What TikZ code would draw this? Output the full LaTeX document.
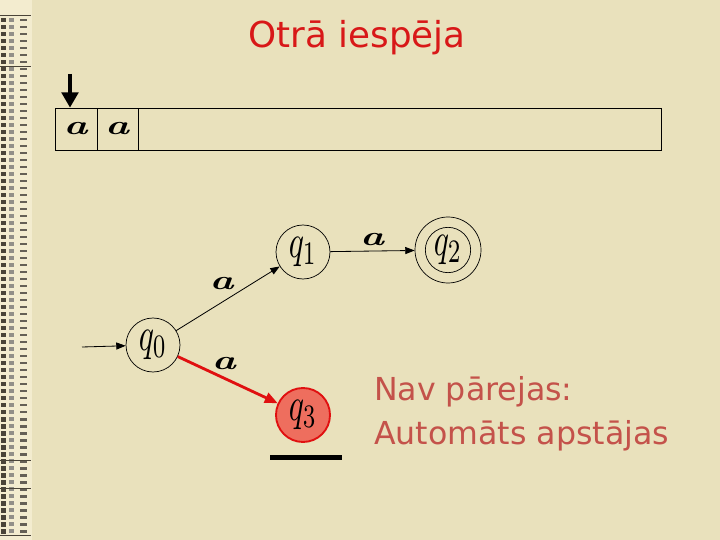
\RequirePackage{fix-cm}
\documentclass[tikz,border=0pt]{standalone}
\usepackage{fontspec}
\usepackage{amsmath}
\usepackage{tikz}
\usetikzlibrary{arrows.meta,calc}
\newfontfamily\verdanaish{DejaVu Sans}
\definecolor{fons}{HTML}{E9E1BC}
\definecolor{mala}{HTML}{F3ECCF}
\definecolor{malaTumss}{HTML}{4A4438}
\definecolor{virsraksts}{HTML}{D81818}
\definecolor{zinaSarkans}{HTML}{C4524A}
\definecolor{sarkans}{HTML}{E01010}
\definecolor{aizpilde}{HTML}{EE6E5E}
\newcommand{\burts}{\scalebox{1.5}[1]{\fontsize{23}{23}\selectfont\textbf{\textit{a}}}}
\newcommand{\stv}[1]{\scalebox{2.7}[4]{$#1$}}

\begin{document}
\begin{tikzpicture}[x=0.03cm,y=-0.03cm,
  stavoklis/.style={circle,draw,line width=0.6pt,minimum size=1.62cm,inner sep=0pt},
  parejas/.style={-{Triangle[length=8pt,width=6pt]},line width=0.7pt},
  burtinsh/.style={inner sep=1pt}]
\useasboundingbox (0,0) rectangle (720,540);
\fill[fons] (0,0) rectangle (720,540);
% kreisa mala
\fill[mala] (0,0) rectangle (32,540);
\foreach \y in {18,25,...,530} {
  \fill[malaTumss] (1,\y) rectangle (6,\y+4.5);
  \fill[malaTumss!60] (9,\y) rectangle (14,\y+4);
  \fill[malaTumss!85] (20,\y+1) rectangle (27,\y+3.5);
}
\foreach \y in {15,66,460,488,535} \draw[malaTumss,line width=0.6pt] (0,\y)--(31,\y);
% virsraksts
\node[virsraksts,font=\verdanaish\fontsize{30.5}{32}\selectfont] (nosaukums) at (357,38) {Otrā iespēja};
% lente
\draw[line width=0.6pt] (55,108) rectangle (661,150);
\node[draw,line width=0.6pt,minimum width=1.26cm,minimum height=1.26cm,inner sep=0pt] (c1) at (76,129) {\burts};
\node[draw,line width=0.6pt,minimum width=1.23cm,minimum height=1.26cm,inner sep=0pt] (c2) at (117.5,129) {\burts};
\coordinate (galva) at (70,74);
\draw[line width=3.4pt,-{Triangle[length=13pt,width=14pt]}] (galva) -- (galva |- c1.north);
% automats
\node[stavoklis] (q0) at (153,345) {\stv{q_0}};
\node[stavoklis] (q1) at (303,252) {\stv{q_1}};
\node[stavoklis,minimum size=1.98cm] (q2) at (448,250) {\stv{q_2}};
\draw[line width=0.6pt] (q2.center) circle (0.68cm);
\node[stavoklis,fill=aizpilde,draw=sarkans,line width=1.6pt] (q3) at (303,415) {\stv{q_3}};
\coordinate (sakums) at (82,347);
\draw[parejas] (sakums) -- (q0);
\draw[parejas] (q0) -- (q1) node[burtinsh,midway,xshift=-0.18cm,yshift=0.45cm] {\burts};
\draw[parejas] (q1) -- (q2) node[burtinsh,midway,yshift=0.36cm] {\burts};
\draw[sarkans,line width=2.4pt,-{Triangle[length=11pt,width=9pt]}] (q0) -- (q3)
  node[black,burtinsh,midway,xshift=-0.1cm,yshift=0.48cm] {\burts};
\fill (270,455) rectangle (342,459.5); % aptura
\node[zinaSarkans,anchor=west,align=left,font=\verdanaish\fontsize{27}{38}\selectfont] (teksts) at (370,414)
  {Nav pārejas:\\Automāts apstājas};
\end{tikzpicture}
\end{document}
